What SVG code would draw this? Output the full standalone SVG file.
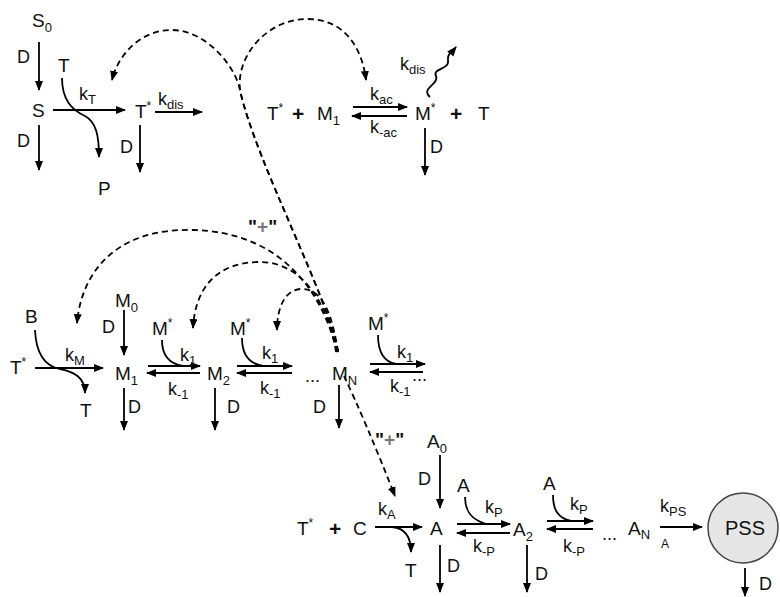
<svg xmlns="http://www.w3.org/2000/svg" width="780" height="597" viewBox="0 0 780 597">
<defs>
<marker id="ah" viewBox="0 0 10 8" refX="9" refY="4" markerUnits="userSpaceOnUse" markerWidth="10" markerHeight="8" orient="auto">
<path d="M0,0 L10,4 L0,8 z" fill="#000"/>
</marker>
<style>
text{font-family:"Liberation Sans",Arial,sans-serif;fill:#111}
.s{font-size:19px}
.d{font-size:18px}
.k{font-size:18px}
.sub{font-size:13px}
.sup{font-size:12px}
.pl{font-size:21px;font-weight:bold}
.q{font-size:19px;font-weight:bold}
.g{fill:#777}
.ar{fill:none;stroke:#000;stroke-width:1.8;marker-end:url(#ah)}
.ln{fill:none;stroke:#000;stroke-width:1.8}
.ds{fill:none;stroke:#000;stroke-width:1.8;stroke-dasharray:6 4;marker-end:url(#ah)}
</style>
</defs>
<rect width="780" height="597" fill="#fff"/>

<g id="connectors">
<!-- top section -->
<line class="ar" x1="39" y1="42" x2="39" y2="90"/>
<line class="ar" x1="53" y1="110" x2="125" y2="110"/>
<line class="ar" x1="39" y1="125" x2="39" y2="170"/>
<path class="ar" d="M62,78 C62,100 72,110 85,116 C96,122 99,135 99,157"/>
<line class="ar" x1="155" y1="112" x2="202" y2="112"/>
<line class="ar" x1="140" y1="125" x2="140" y2="172"/>
<line class="ar" x1="353" y1="107" x2="407" y2="107"/>
<line class="ar" x1="407" y1="116" x2="352" y2="116"/>
<line class="ar" x1="425" y1="128" x2="425" y2="175"/>
<path class="ar" d="M430,97 C420,88 440,84 436,76 C432,68 450,70 448,60 C447,54 452,52 456,47"/>
<!-- middle section -->
<line class="ar" x1="124" y1="310" x2="124" y2="355"/>
<line class="ar" x1="35" y1="368" x2="103" y2="368"/>
<path class="ar" d="M35,330 C36,352 44,366 60,369 C75,372 85,378 85,393"/>
<line class="ar" x1="148" y1="366" x2="200" y2="366"/>
<line class="ar" x1="200" y1="373" x2="147" y2="373"/>
<path class="ln" d="M162,340 C162,356 170,364 183,366"/>
<line class="ar" x1="124" y1="388" x2="124" y2="430"/>
<line class="ar" x1="215" y1="388" x2="215" y2="430"/>
<line class="ar" x1="237" y1="366" x2="292" y2="366"/>
<line class="ar" x1="292" y1="373" x2="237" y2="373"/>
<path class="ln" d="M242,338 C242,356 250,364 263,366"/>
<line class="ar" x1="339" y1="385" x2="339" y2="428"/>
<line class="ar" x1="370" y1="364" x2="425" y2="364"/>
<line class="ar" x1="423" y1="372" x2="370" y2="372"/>
<path class="ln" d="M378,335 C378,354 385,362 396,364"/>
<!-- bottom section -->
<line class="ar" x1="440" y1="455" x2="440" y2="508"/>
<line class="ar" x1="375" y1="527" x2="422" y2="527"/>
<path class="ar" d="M392,527 C404,528 411,535 411,552"/>
<line class="ar" x1="457" y1="524" x2="510" y2="524"/>
<line class="ar" x1="510" y1="533" x2="457" y2="533"/>
<path class="ln" d="M465,497 C465,512 472,520 486,524"/>
<line class="ar" x1="440" y1="545" x2="440" y2="592"/>
<line class="ar" x1="527" y1="545" x2="527" y2="592"/>
<line class="ar" x1="547" y1="521" x2="593" y2="521"/>
<line class="ar" x1="593" y1="529" x2="547" y2="529"/>
<path class="ln" d="M553,495 C553,510 558,518 571,521"/>
<line class="ar" x1="660" y1="527" x2="702" y2="527"/>
<line class="ar" x1="745" y1="568" x2="745" y2="596"/>
<!-- dashed feedback -->
<path class="ds" d="M338,352 C330,300 255,160 240,90 C235,65 205,30 172,30 C140,30 118,55 112,80"/>
<path class="ds" d="M338,352 C330,300 255,160 240,90 C236,55 268,19 307,19 C345,19 362,48 366,80"/>
<path class="ds" d="M337,352 C322,290 280,232 193,230 C120,228 82,268 77,323"/>
<path class="ds" d="M336,352 C330,310 305,262 260,262 C215,262 195,290 193,328"/>
<path class="ds" d="M338,352 C333,320 325,290 303,289 C285,288 277,308 277,330"/>
<path class="ds" d="M344,376 Q365,420 395,496"/>
</g>

<g id="S0"><text class="s" x="32" y="27">S<tspan class="sub" dy="5">0</tspan></text></g>
<g id="S"><text class="s" x="32" y="117">S</text></g>
<g id="T_top"><text class="s" x="58" y="72">T</text></g>
<g id="P"><text class="s" x="98" y="195">P</text></g>
<g id="Tstar1"><text class="s" x="135" y="118">T<tspan class="sup" dy="-8">*</tspan></text></g>
<g id="labels_top">
<text class="d" x="17" y="63">D</text>
<text class="d" x="17" y="147">D</text>
<text class="d" x="120" y="153">D</text>
<text class="k" x="79" y="100">k<tspan class="sub" dy="4">T</tspan></text>
<text class="k" x="158" y="105">k<tspan class="sub" dy="4">dis</tspan></text>
<text class="k" x="370" y="100">k<tspan class="sub" dy="4">ac</tspan></text>
<text class="k" x="370" y="133">k<tspan class="sub" dy="4">-ac</tspan></text>
<text class="k" x="400" y="70">k<tspan class="sub" dy="4">dis</tspan></text>
<text class="d" x="430" y="153">D</text>
</g>
<g id="Tstar2"><text class="s" x="267" y="120">T<tspan class="sup" dy="-8">*</tspan></text></g>
<g id="plus1"><text class="pl" x="292" y="121">+</text></g>
<g id="M1_top"><text class="s" x="317" y="120">M<tspan class="sub" dy="5">1</tspan></text></g>
<g id="Mstar_top"><text class="s" x="415" y="120">M<tspan class="sup" dy="-8">*</tspan></text></g>
<g id="plus2"><text class="pl" x="450" y="121">+</text></g>
<g id="T_top2"><text class="s" x="478" y="120">T</text></g>

<g id="plus_label1"><text class="q" x="248" y="233">"<tspan class="g">+</tspan>"</text></g>
<g id="B"><text class="s" x="25" y="323">B</text></g>
<g id="M0"><text class="s" x="115" y="307">M<tspan class="sub" dy="5">0</tspan></text></g>
<g id="Tstar3"><text class="s" x="10" y="374">T<tspan class="sup" dy="-8">*</tspan></text></g>
<g id="T_mid"><text class="s" x="80" y="417">T</text></g>
<g id="M1"><text class="s" x="115" y="380">M<tspan class="sub" dy="5">1</tspan></text></g>
<g id="Mstar1"><text class="s" x="152" y="335">M<tspan class="sup" dy="-8">*</tspan></text></g>
<g id="M2"><text class="s" x="207" y="380">M<tspan class="sub" dy="5">2</tspan></text></g>
<g id="Mstar2"><text class="s" x="230" y="335">M<tspan class="sup" dy="-8">*</tspan></text></g>
<g id="MN"><text class="s" x="332" y="380">M<tspan class="sub" dy="5">N</tspan></text></g>
<g id="Mstar3"><text class="s" x="368" y="330">M<tspan class="sup" dy="-8">*</tspan></text></g>
<g id="labels_mid">
<text class="d" x="102" y="333">D</text>
<text class="k" x="65" y="361">k<tspan class="sub" dy="4">M</tspan></text>
<text class="k" x="180" y="361">k<tspan class="sub" dy="4">1</tspan></text>
<text class="k" x="168" y="395">k<tspan class="sub" dy="4">-1</tspan></text>
<text class="d" x="128" y="413">D</text>
<text class="d" x="227" y="413">D</text>
<text class="k" x="262" y="359">k<tspan class="sub" dy="4">1</tspan></text>
<text class="k" x="260" y="394">k<tspan class="sub" dy="4">-1</tspan></text>
<text class="d" x="305" y="382">...</text>
<text class="d" x="313" y="413">D</text>
<text class="k" x="397" y="358">k<tspan class="sub" dy="4">1</tspan></text>
<text class="k" x="390" y="392">k<tspan class="sub" dy="4">-1</tspan></text>
<text class="d" x="412" y="381">...</text>
</g>

<g id="plus_label2"><text class="q" x="375" y="446">"<tspan class="g">+</tspan>"</text></g>
<g id="A0"><text class="s" x="427" y="448">A<tspan class="sub" dy="5">0</tspan></text></g>
<g id="Tstar4"><text class="s" x="297" y="535">T<tspan class="sup" dy="-8">*</tspan></text></g>
<g id="plus3"><text class="pl" x="329" y="536">+</text></g>
<g id="C"><text class="s" x="353" y="535">C</text></g>
<g id="T_bot"><text class="s" x="405" y="577">T</text></g>
<g id="A"><text class="s" x="430" y="535">A</text></g>
<g id="A_r1"><text class="s" x="457" y="492">A</text></g>
<g id="A2"><text class="s" x="513" y="536">A<tspan class="sub" dy="5">2</tspan></text></g>
<g id="A_r2"><text class="s" x="543" y="490">A</text></g>
<g id="AN"><text class="s" x="628" y="535">A<tspan class="sub" dy="4">N</tspan></text></g>
<g id="PSS">
<circle cx="743" cy="528" r="35" fill="#e6e6e6" stroke="#444" stroke-width="1.5"/>
<text x="745" y="535" font-size="20" text-anchor="middle">PSS</text>
</g>
<g id="labels_bot">
<text class="d" x="418" y="485">D</text>
<text class="k" x="378" y="515">k<tspan class="sub" dy="4">A</tspan></text>
<text class="k" x="485" y="513">k<tspan class="sub" dy="4">P</tspan></text>
<text class="k" x="473" y="552">k<tspan class="sub" dy="4">-P</tspan></text>
<text class="d" x="447" y="572">D</text>
<text class="d" x="535" y="580">D</text>
<text class="k" x="570" y="510">k<tspan class="sub" dy="4">P</tspan></text>
<text class="k" x="563" y="552">k<tspan class="sub" dy="4">-P</tspan></text>
<text class="d" x="602" y="540">...</text>
<text class="k" x="660" y="512">k<tspan class="sub" dy="4">PS</tspan></text>
<text x="661" y="548" font-size="12">A</text>
<text class="d" x="759" y="590">D</text>
</g>
</svg>
